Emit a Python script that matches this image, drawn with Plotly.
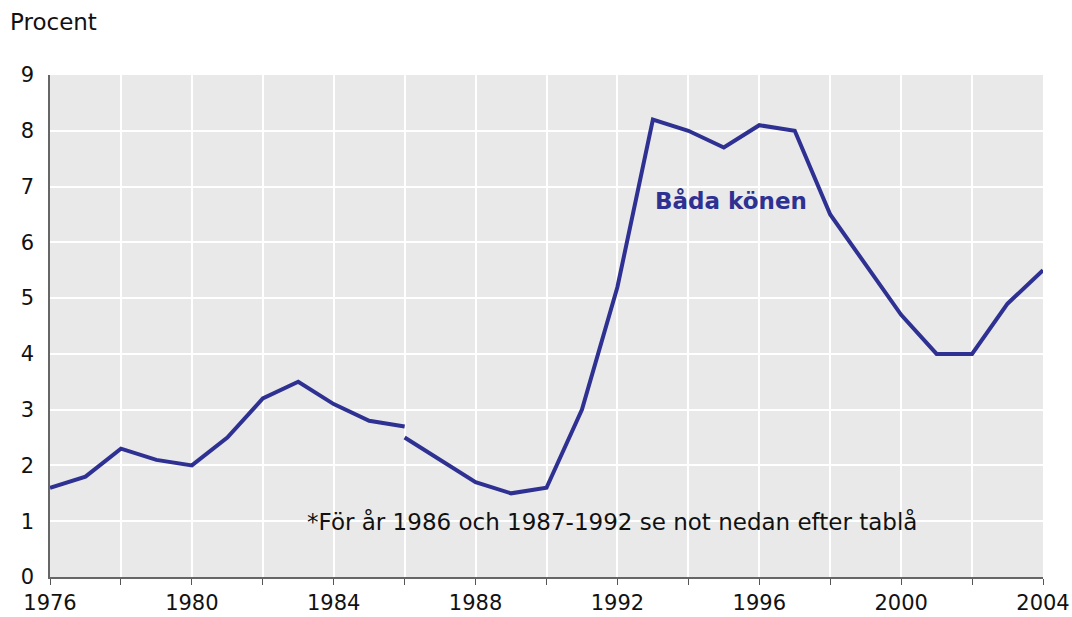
import plotly.graph_objects as go

# Series split at 1986 (break in the time series)
years_a = [1976, 1977, 1978, 1979, 1980, 1981, 1982, 1983, 1984, 1985, 1986]
values_a = [1.6, 1.8, 2.3, 2.1, 2.0, 2.5, 3.2, 3.5, 3.1, 2.8, 2.7]

years_b = [1986, 1987, 1988, 1989, 1990, 1991, 1992, 1993, 1994, 1995,
           1996, 1997, 1998, 1999, 2000, 2001, 2002, 2003, 2004]
values_b = [2.5, 2.1, 1.7, 1.5, 1.6, 3.0, 5.2, 8.2, 8.0, 7.7,
            8.1, 8.0, 6.5, 5.6, 4.7, 4.0, 4.0, 4.9, 5.5]

x_ticks = [1976, 1980, 1984, 1988, 1992, 1996, 2000, 2004]
y_ticks = list(range(0, 10))

LINE = "#2e3192"
FONT = "Verdana, DejaVu Sans, sans-serif"

fig = go.Figure()
for xs, ys in [(years_a, values_a), (years_b, values_b)]:
    fig.add_trace(
        go.Scatter(x=xs, y=ys, mode="lines", line={"color": LINE, "width": 4},
                   showlegend=False, hoverinfo="x+y")
    )

fig.add_annotation(x=1995.2, y=6.75, text="<b>Båda könen</b>", showarrow=False,
                   font={"size": 23, "color": LINE, "family": FONT})
fig.add_annotation(x=1991.85, y=1.0, text="*För år 1986 och 1987-1992 se not nedan efter tablå",
                   showarrow=False, font={"size": 23, "color": "#111111", "family": FONT})
fig.add_annotation(xref="paper", yref="paper", x=-0.0423, y=1.106, xanchor="left", yanchor="middle",
                   text="Procent", showarrow=False, font={"size": 23, "color": "#111111", "family": FONT})

fig.update_layout(
    width=1072,
    height=617,
    paper_bgcolor="white",
    plot_bgcolor="#e9e9e9",
    margin={"l": 50, "r": 29, "t": 75, "b": 40},
    font={"family": FONT, "size": 21, "color": "#111111"},
    xaxis={
        "range": [1976, 2004],
        "tickvals": x_ticks,
        "ticktext": [str(t) for t in x_ticks],
        "showgrid": False,
        "showline": True,
        "linecolor": "#666666",
        "linewidth": 1.5,
        "zeroline": False,
        "fixedrange": True,
        "automargin": False,
        "minor": {"dtick": 2, "tick0": 1976, "ticks": "outside", "ticklen": 6,
                  "tickcolor": "#555555", "showgrid": True, "gridcolor": "white", "gridwidth": 1.5},
        "ticks": "outside",
        "ticklen": 6,
        "tickcolor": "#555555",
    },
    yaxis={
        "range": [0, 9],
        "tickvals": y_ticks,
        "showgrid": True,
        "gridcolor": "white",
        "gridwidth": 1.5,
        "showline": True,
        "linecolor": "#666666",
        "linewidth": 1.5,
        "zeroline": False,
        "ticks": "",
        "ticklabelstandoff": 10,
        "automargin": False,
        "fixedrange": True,
    },
)

# drop the default page margin so the figure sits at the window's top-left corner
fig.write_html(
    "out.html",
    config={"displayModeBar": False},
    post_script="document.body.style.margin='0';",
)
